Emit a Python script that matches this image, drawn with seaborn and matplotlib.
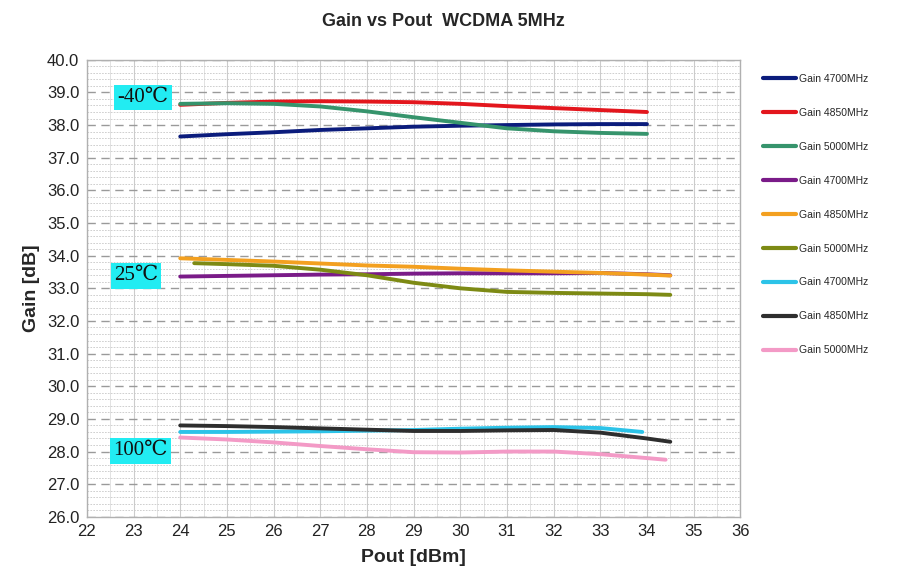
import numpy as np
import pandas as pd
import matplotlib
matplotlib.use('Agg')
import matplotlib.pyplot as plt
import seaborn as sns
from matplotlib.ticker import MultipleLocator

# Gain vs Pout readings, three temperatures x three frequencies
pout_m40 = [24, 25, 26, 27, 28, 29, 30, 31, 32, 33, 34]
gain_m40_4700 = [37.65, 37.72, 37.78, 37.85, 37.90, 37.95, 37.98, 38.00, 38.02, 38.03, 38.03]
gain_m40_4850 = [38.62, 38.68, 38.72, 38.73, 38.72, 38.70, 38.65, 38.58, 38.52, 38.46, 38.40]
gain_m40_5000 = [38.65, 38.67, 38.65, 38.57, 38.42, 38.24, 38.07, 37.90, 37.81, 37.76, 37.73]

pout_25 = [24, 25, 26, 27, 28, 29, 30, 31, 32, 33, 34, 34.5]
gain_25_4700 = [33.36, 33.38, 33.40, 33.42, 33.43, 33.45, 33.46, 33.46, 33.46, 33.47, 33.43, 33.40]
gain_25_4850 = [33.92, 33.87, 33.82, 33.76, 33.70, 33.66, 33.60, 33.55, 33.51, 33.47, 33.42, 33.39]
pout_25_5000 = [24.3, 25, 26, 27, 28, 29, 30, 31, 32, 33, 34, 34.5]
gain_25_5000 = [33.77, 33.74, 33.69, 33.57, 33.40, 33.17, 33.00, 32.89, 32.86, 32.84, 32.82, 32.80]

pout_100_4700 = [24, 25, 26, 27, 28, 29, 30, 31, 32, 33, 33.9]
gain_100_4700 = [28.60, 28.60, 28.61, 28.62, 28.64, 28.66, 28.70, 28.73, 28.75, 28.72, 28.60]
pout_100_4850 = [24, 25, 26, 27, 28, 29, 30, 31, 32, 33, 34, 34.5]
gain_100_4850 = [28.80, 28.78, 28.75, 28.71, 28.67, 28.63, 28.63, 28.65, 28.66, 28.58, 28.40, 28.30]
pout_100_5000 = [24, 25, 26, 27, 28, 29, 30, 31, 32, 33, 34, 34.4]
gain_100_5000 = [28.43, 28.37, 28.28, 28.17, 28.07, 27.98, 27.97, 28.00, 28.00, 27.92, 27.80, 27.75]

series = [
    ('Gain 4700MHz', pout_m40, gain_m40_4700, '#0b1c7c'),
    ('Gain 4850MHz', pout_m40, gain_m40_4850, '#e3161d'),
    ('Gain 5000MHz', pout_m40, gain_m40_5000, '#36946c'),
    ('Gain 4700MHz', pout_25, gain_25_4700, '#7a1b88'),
    ('Gain 4850MHz', pout_25, gain_25_4850, '#f3a020'),
    ('Gain 5000MHz', pout_25_5000, gain_25_5000, '#7d8a14'),
    ('Gain 4700MHz', pout_100_4700, gain_100_4700, '#2cc3e8'),
    ('Gain 4850MHz', pout_100_4850, gain_100_4850, '#2e2e2e'),
    ('Gain 5000MHz', pout_100_5000, gain_100_5000, '#f39ac6'),
]

temp_labels = ['-40\u2103', '25\u2103', '100\u2103']
temp_x = [23.2, 23.05, 23.15]
temp_y = [38.84, 33.38, 28.02]

sns.set_style('white')
plt.rcParams['font.family'] = ['Liberation Sans', 'DejaVu Sans']
fig = plt.figure(figsize=(9.05, 5.86), dpi=100)
ax = fig.add_axes([0.096, 0.118, 0.722, 0.78])

for lbl, x, y, c in series:
    df = pd.DataFrame({'Pout': x, 'Gain': y})
    sns.lineplot(data=df, x='Pout', y='Gain', color=c, linewidth=2.8, label=lbl, ax=ax)

ax.set_xlim(22, 36)
ax.set_ylim(26, 40)
ax.xaxis.set_major_locator(MultipleLocator(1))
ax.xaxis.set_minor_locator(MultipleLocator(0.5))
ax.yaxis.set_major_locator(MultipleLocator(1))
ax.yaxis.set_minor_locator(MultipleLocator(0.2))
ax.set_yticks(np.arange(26, 40.5, 1))
ax.set_yticklabels(['%.1f' % v for v in np.arange(26, 40.5, 1)])

ax.grid(which='major', axis='y', color='#9a9a9a', linestyle=(0, (6, 4)), linewidth=1.0)
ax.grid(which='minor', axis='y', color='#c8c8c8', linestyle=(0, (2, 1.5)), linewidth=0.6)
ax.grid(which='major', axis='x', color='#cccccc', linestyle='-', linewidth=0.8)
ax.grid(which='minor', axis='x', color='#dddddd', linestyle='-', linewidth=0.6)
ax.set_axisbelow(True)
for s in ax.spines.values():
    s.set_color('#b0b0b0')
    s.set_linewidth(1.0)
ax.tick_params(axis='both', which='major', labelsize=12, length=4, color='#888888', direction='inout',
               labelcolor='#222222')
ax.tick_params(which='minor', length=0)

ax.set_xlabel('Pout [dBm]', fontsize=14, fontweight='bold', labelpad=7)
ax.set_ylabel('Gain [dB]', fontsize=14, fontweight='bold', labelpad=5)
fig.suptitle('Gain vs Pout  WCDMA 5MHz', x=0.49, y=0.978, fontsize=13, fontweight='bold')

for t, tx, ty in zip(temp_labels, temp_x, temp_y):
    ax.text(tx, ty, t, fontsize=15, family=['Liberation Serif', 'DejaVu Serif'], ha='center', va='center',
            color='#111111',
            bbox=dict(boxstyle='square,pad=0.15', facecolor='#22ecf2', edgecolor='none'))

leg = ax.legend(loc='upper left', bbox_to_anchor=(1.02, 0.99), frameon=False, fontsize=7.5,
                handlelength=3.2, labelspacing=2.3, handletextpad=0.3)
for h in leg.get_lines():
    h.set_linewidth(3)

fig.savefig('out.png', dpi=100)
